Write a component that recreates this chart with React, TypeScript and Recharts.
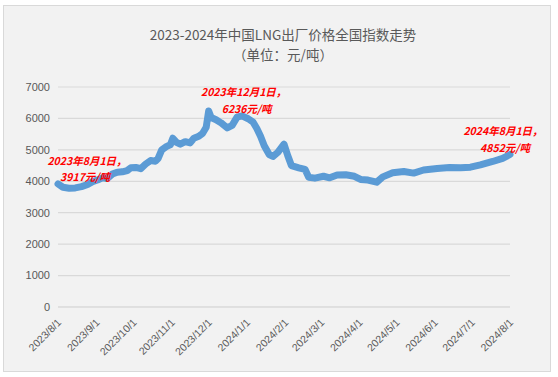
import React from 'react';
import { LineChart, Line, XAxis, YAxis, CartesianGrid, ReferenceDot } from 'recharts';

const dates = [
  '2023-08-01', '2023-08-05', '2023-08-10', '2023-08-15', '2023-08-20', '2023-08-25', '2023-08-29',
  '2023-09-02', '2023-09-06', '2023-09-10', '2023-09-14', '2023-09-18', '2023-09-22', '2023-09-26', '2023-09-29',
  '2023-10-03', '2023-10-07', '2023-10-11', '2023-10-15', '2023-10-19', '2023-10-21', '2023-10-24', '2023-10-28', '2023-10-31',
  '2023-11-02', '2023-11-05', '2023-11-08', '2023-11-12', '2023-11-16', '2023-11-19', '2023-11-23', '2023-11-26', '2023-11-29',
  '2023-12-01', '2023-12-03', '2023-12-07', '2023-12-11', '2023-12-16', '2023-12-20', '2023-12-24', '2023-12-28',
  '2024-01-02', '2024-01-06', '2024-01-09', '2024-01-12', '2024-01-15', '2024-01-19', '2024-01-22', '2024-01-26', '2024-01-31',
  '2024-02-03', '2024-02-06', '2024-02-12', '2024-02-17', '2024-02-20', '2024-02-25',
  '2024-03-03', '2024-03-08', '2024-03-14', '2024-03-21', '2024-03-28',
  '2024-04-02', '2024-04-08', '2024-04-15', '2024-04-20', '2024-04-28',
  '2024-05-07', '2024-05-15', '2024-05-23',
  '2024-06-03', '2024-06-13', '2024-06-22', '2024-06-30',
  '2024-07-08', '2024-07-18', '2024-07-26', '2024-08-01',
];

const prices = [
  3917, 3810, 3780, 3790, 3830, 3900, 3990,
  4040, 4110, 4090, 4230, 4290, 4300, 4340, 4430,
  4440, 4400, 4550, 4660, 4640, 4720, 5000, 5110, 5160,
  5370, 5240, 5180, 5260, 5220, 5370, 5430, 5520, 5720,
  6236, 6030, 5960, 5860, 5700, 5780, 6040, 6080,
  5990, 5880, 5680, 5430, 5130, 4850, 4790, 4920, 5180,
  4820, 4500, 4430, 4380, 4130, 4100,
  4160, 4110, 4200, 4210, 4160,
  4060, 4040, 3970, 4140, 4270,
  4310, 4260, 4360,
  4410, 4440, 4430, 4450,
  4520, 4630, 4730, 4852,
];

const monthTicks = [
  '2023-08-01', '2023-09-01', '2023-10-01', '2023-11-01', '2023-12-01', '2024-01-01', '2024-02-01',
  '2024-03-01', '2024-04-01', '2024-05-01', '2024-06-01', '2024-07-01', '2024-08-01',
];

const yTicks = [0, 1000, 2000, 3000, 4000, 5000, 6000, 7000];

const notes = [
  { date: '2023-08-01', value: 3917, line1: '2023年8月1日，', line2: '3917元/吨', dx1: 29, dy1: -19, dx2: 27, dy2: -3 },
  { date: '2023-12-01', value: 6236, line1: '2023年12月1日，', line2: '6236元/吨', dx1: 35, dy1: -15, dx2: 38, dy2: 2 },
  { date: '2024-08-01', value: 4852, line1: '2024年8月1日，', line2: '4852元/吨', dx1: -7, dy1: -20, dx2: -5, dy2: -3 },
];

const ts = (d: string) => Date.parse(d + 'T00:00:00Z');

const data = dates.map((d, i) => ({ t: ts(d), price: prices[i] }));

const fmtTick = (v: number) => {
  const d = new Date(v);
  return `${d.getUTCFullYear()}/${d.getUTCMonth() + 1}/${d.getUTCDate()}`;
};

const XTick = ({ x, y, payload }: any) => {
  const tx = x + 4;
  const ty = y + 8;
  return (
    <text x={tx} y={ty} transform={`rotate(-45 ${tx} ${ty})`} textAnchor="end"
      fill="#595959" fontSize={10.5} fontFamily="Liberation Sans, Arial, sans-serif">
      {fmtTick(payload.value)}
    </text>
  );
};

const noteShape = (n: typeof notes[number]) => (props: any) => {
  const { cx, cy } = props;
  const style = { fill: '#ff0000', fontSize: 10.5, fontWeight: 700, fontStyle: 'italic', fontFamily: 'Noto Sans CJK SC, sans-serif' } as const;
  return (
    <g>
      <text x={cx + n.dx1} y={cy + n.dy1} textAnchor="middle" style={style}>{n.line1}</text>
      <text x={cx + n.dx2} y={cy + n.dy2} textAnchor="middle" style={style}>{n.line2}</text>
    </g>
  );
};

export default function App() {
  return (
    <div style={{ position: 'absolute', left: 0, top: 0, width: 558, height: 377, background: '#fff' }}>
      <div style={{
        position: 'absolute', left: 3, top: 5, width: 548, height: 367, boxSizing: 'border-box',
        background: '#f2f2f2', border: '1px solid #d9d9d9',
      }} />
      <div style={{
        position: 'absolute', left: 133, width: 300, top: 24, textAlign: 'center', color: '#595959',
        fontFamily: 'Noto Sans CJK SC, sans-serif', fontSize: 13.5, lineHeight: '20px',
      }}>
        <div>2023-2024年中国LNG出厂价格全国指数走势</div>
        <div>（单位：元/吨）</div>
      </div>
      <div style={{ position: 'absolute', left: 0, top: 0 }}>
        <LineChart width={558} height={377} data={data} margin={{ top: 87, right: 48, left: 8, bottom: 10 }}>
          <CartesianGrid vertical={false} stroke="#d9d9d9" strokeWidth={1.2} />
          <XAxis dataKey="t" type="number" domain={[ts(monthTicks[0]), ts(monthTicks[monthTicks.length - 1])]}
            ticks={monthTicks.map(ts)} tick={<XTick />} tickLine={false} axisLine={{ stroke: '#d9d9d9' }}
            height={60} interval={0} />
          <YAxis domain={[0, 7000]} ticks={yTicks} width={50} axisLine={false} tickLine={false}
            tick={{ fill: '#595959', fontSize: 11, fontFamily: 'Liberation Sans, Arial, sans-serif' }} />
          <Line type="linear" dataKey="price" stroke="#5b9bd5" strokeWidth={7} dot={false}
            strokeLinejoin="round" strokeLinecap="round" isAnimationActive={false} />
          {notes.map((n) => (
            <ReferenceDot key={n.date} x={ts(n.date)} y={n.value} r={0} ifOverflow="visible" shape={noteShape(n)} />
          ))}
        </LineChart>
      </div>
    </div>
  );
}
